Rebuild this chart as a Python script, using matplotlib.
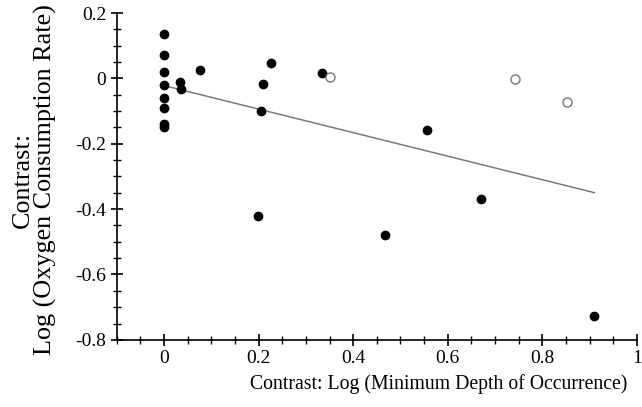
import matplotlib
matplotlib.use("Agg")
import matplotlib.pyplot as plt
from matplotlib.ticker import MultipleLocator, FuncFormatter

plt.rcParams["font.family"] = ["Liberation Serif", "DejaVu Serif"]
plt.rcParams["axes.unicode_minus"] = False

# species contrasts (filled) and excluded contrasts (open)
depth_filled = [0.0, 0.0, 0.0, 0.0, 0.0, 0.0, 0.0, 0.0,
                0.034, 0.036, 0.076, 0.199, 0.204, 0.21, 0.226,
                0.333, 0.468, 0.556, 0.671, 0.91]
oxygen_filled = [0.137, 0.073, 0.021, -0.021, -0.061, -0.092, -0.14, -0.15,
                 -0.012, -0.031, 0.027, -0.42, -0.10, -0.018, 0.046,
                 0.016, -0.48, -0.159, -0.37, -0.727]
depth_open = [0.351, 0.742, 0.853]
oxygen_open = [0.003, -0.003, -0.073]

# regression through the origin region
fit_intercept = -0.022
fit_slope = -0.36
fit_x = [0.0, max(depth_filled)]

fig = plt.figure(figsize=(6.42, 4.07), dpi=100)
ax = fig.add_axes([0.182, 0.165, 0.81, 0.803])

ax.plot(fit_x, [fit_intercept + fit_slope * x for x in fit_x],
        color="#7a7a7a", lw=1.1, zorder=1)
ax.plot(depth_filled, oxygen_filled, "o", color="black", ms=6, zorder=3)
ax.plot(depth_open, oxygen_open, "o", mfc="white", mec="#777777",
        mew=1.0, ms=6.5, zorder=3)

ax.set_xlim(-0.1, 1.0)
ax.set_ylim(-0.8, 0.2)
for side in ("top", "right"):
    ax.spines[side].set_visible(False)
for side in ("left", "bottom"):
    ax.spines[side].set_linewidth(1.2)

ax.xaxis.set_major_locator(MultipleLocator(0.2))
ax.xaxis.set_minor_locator(MultipleLocator(0.05))
ax.yaxis.set_major_locator(MultipleLocator(0.2))
ax.yaxis.set_minor_locator(MultipleLocator(0.05))
fmt = FuncFormatter(lambda v, p: "%g" % round(v, 2))
ax.xaxis.set_major_formatter(fmt)
ax.yaxis.set_major_formatter(fmt)
ax.tick_params(which="major", direction="inout", length=9, width=1.2,
               labelsize=14, pad=3)
ax.tick_params(which="minor", direction="inout", length=6, width=1.0)

ax.set_xlabel("Contrast: Log (Minimum Depth of Occurrence)", fontsize=14.2)
ax.xaxis.set_label_coords(0.619, -0.105)
ax.set_ylabel("Contrast:\nLog (Oxygen Consumption Rate)", fontsize=18.8,
              linespacing=0.98)
ax.yaxis.set_label_coords(-0.116, 0.49)

fig.savefig("out.png", dpi=100, facecolor="white")
